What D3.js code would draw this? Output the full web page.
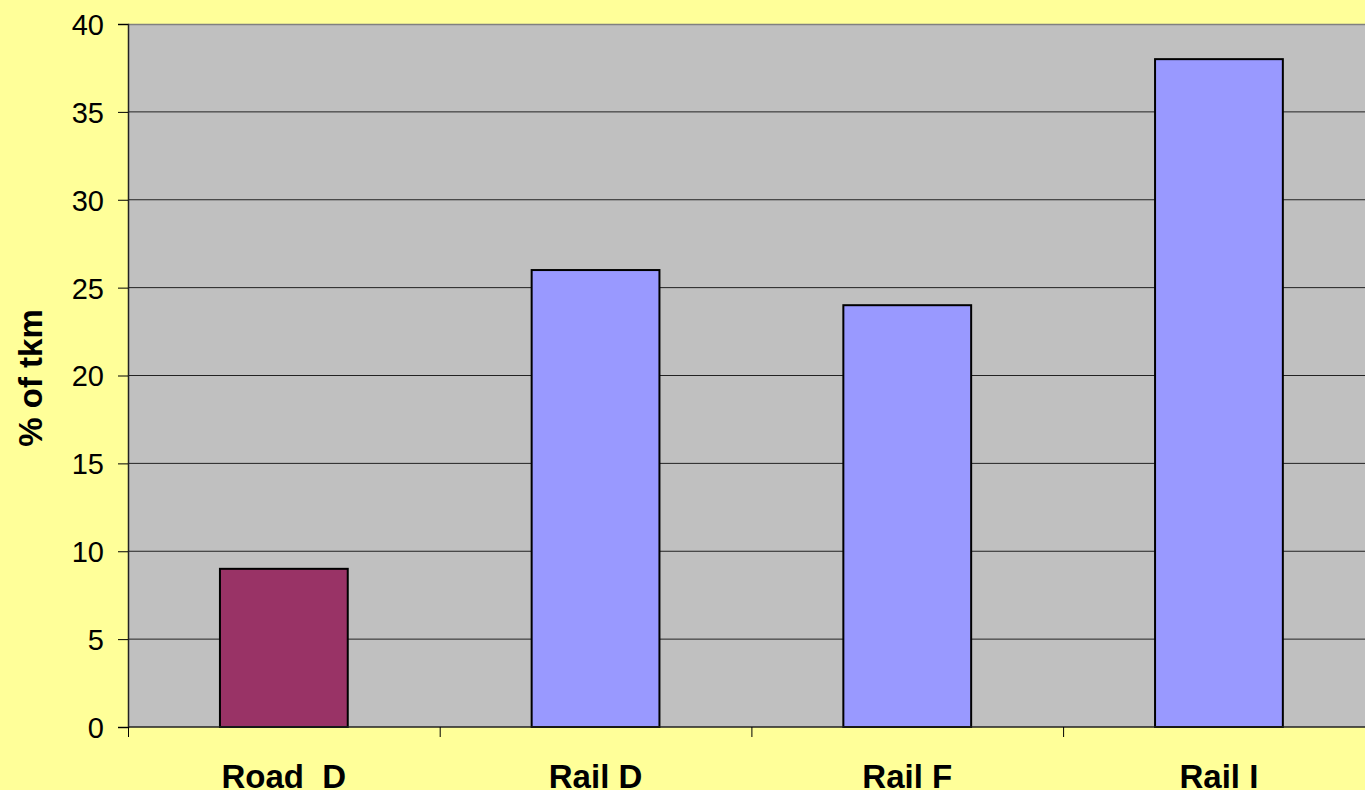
<!DOCTYPE html>
<html lang="en">
<head>
  <script src="https://d3js.org/d3.v7.min.js"></script>
  <style>
    body { margin: 0; background: #FFFF99; }
    svg { display: block; }
  </style>
</head>
<body>
<script>
    // chart data
    const categories = ["Road  D", "Rail D", "Rail F", "Rail I"];
    const values = [9, 26, 24, 38];
    const barColors = ["#993366", "#9999FF", "#9999FF", "#9999FF"];
    const yTicks = [0, 5, 10, 15, 20, 25, 30, 35, 40];

    const w = 1365, h = 790;
    const plotLeft = 128, plotTop = 24, plotBottom = 727;
    const plotRight = plotLeft + 4 * 311.7;

    const svg = d3.select("body").append("svg")
        .attr("width", w)
        .attr("height", h);

    svg.append("rect").attr("width", w).attr("height", h).attr("fill", "#FFFF99");

    const xScale = d3.scaleBand()
        .domain(categories)
        .range([plotLeft, plotRight])
        .paddingInner(0.59)
        .paddingOuter(0.295);

    const yScale = d3.scaleLinear()
        .domain([0, 40])
        .range([plotBottom, plotTop]);

    // plot area
    svg.append("rect")
        .attr("x", plotLeft).attr("y", plotTop)
        .attr("width", plotRight - plotLeft).attr("height", plotBottom - plotTop)
        .attr("fill", "#C0C0C0");
    svg.append("line")
        .attr("x1", plotLeft).attr("x2", plotRight)
        .attr("y1", plotTop + 0.5).attr("y2", plotTop + 0.5)
        .attr("stroke", "#808080").attr("stroke-width", 1.5);

    // gridlines
    svg.append("g")
        .selectAll("line")
        .data(yTicks.filter(d => d > 0 && d < 40))
        .join("line")
        .attr("x1", plotLeft).attr("x2", plotRight)
        .attr("y1", d => yScale(d)).attr("y2", d => yScale(d))
        .attr("stroke", "#222").attr("stroke-width", 1);

    // bars
    svg.append("g")
        .selectAll("rect")
        .data(values)
        .join("rect")
        .attr("x", (d, i) => xScale(categories[i]))
        .attr("y", d => yScale(d))
        .attr("width", xScale.bandwidth())
        .attr("height", d => plotBottom - yScale(d))
        .attr("fill", (d, i) => barColors[i])
        .attr("stroke", "#000")
        .attr("stroke-width", 2);

    // y axis
    const yAxis = d3.axisLeft(yScale)
        .tickValues(yTicks)
        .tickSize(10)
        .tickPadding(14);
    const yg = svg.append("g")
        .attr("transform", "translate(" + plotLeft + ",0)")
        .call(yAxis);
    yg.select(".domain").attr("stroke", "#222").attr("stroke-width", 1.5);
    yg.selectAll(".tick line").attr("stroke", "#000");
    yg.selectAll("text")
        .attr("font-family", "Liberation Sans, Arial, sans-serif")
        .attr("font-size", "29px")
        .attr("fill", "#000")
        .attr("dy", "0.36em");

    // x axis: ticks at band boundaries
    const xg = svg.append("g");
    xg.append("line")
        .attr("x1", plotLeft).attr("x2", plotRight)
        .attr("y1", plotBottom).attr("y2", plotBottom)
        .attr("stroke", "#222").attr("stroke-width", 1.5);
    const step = xScale.step();
    xg.selectAll(".xtick")
        .data(categories)
        .join("line")
        .attr("class", "xtick")
        .attr("x1", (d, i) => plotLeft + i * step + 0.5)
        .attr("x2", (d, i) => plotLeft + i * step + 0.5)
        .attr("y1", plotBottom).attr("y2", plotBottom + 10)
        .attr("stroke", "#000");
    xg.selectAll("text")
        .data(categories)
        .join("text")
        .attr("x", d => xScale(d) + xScale.bandwidth() / 2)
        .attr("y", 788)
        .attr("text-anchor", "middle")
        .attr("font-family", "Liberation Sans, Arial, sans-serif")
        .attr("font-weight", "bold")
        .attr("font-size", "33px")
        .style("white-space", "pre")
        .text(d => d);

    // y axis title
    svg.append("text")
        .attr("transform", "translate(42,378) rotate(-90)")
        .attr("text-anchor", "middle")
        .attr("font-family", "Liberation Sans, Arial, sans-serif")
        .attr("font-weight", "bold")
        .attr("font-size", "33px")
        .text("% of tkm");
</script>
</body>
</html>
